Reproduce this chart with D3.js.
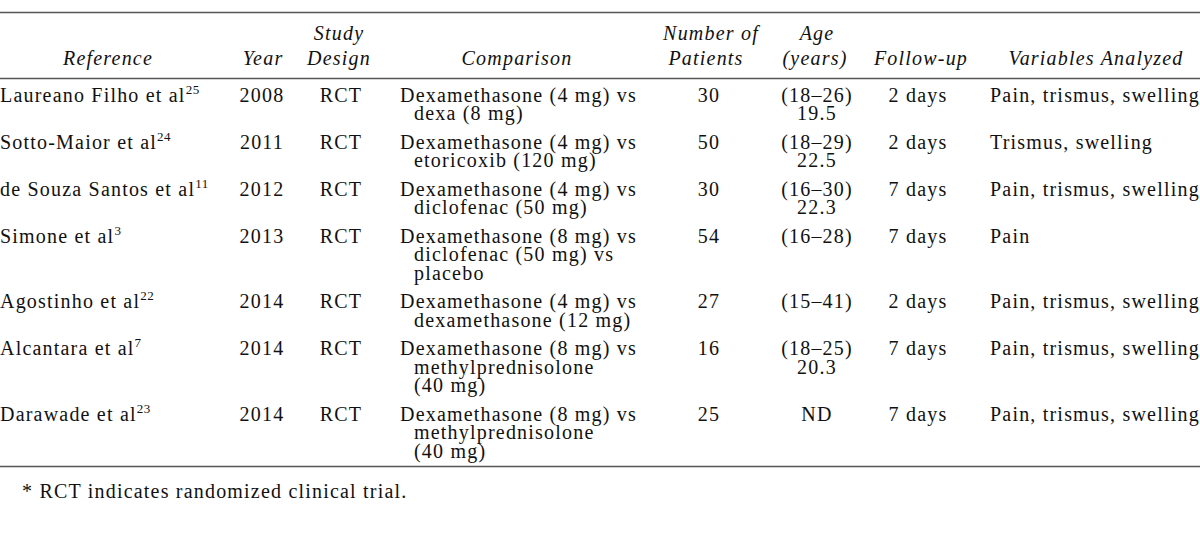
<!DOCTYPE html>
<html>
<head>
<meta charset="utf-8">
<script src="https://cdn.jsdelivr.net/npm/d3@7"></script>
<style>
  html, body { margin: 0; padding: 0; background: #fff; }
  svg { display: block; }
  text { font-family: "Liberation Serif", "Times New Roman", serif; fill: #111; }
</style>
</head>
<body>
<svg id="chart" width="1200" height="534"></svg>
<script>
// ---- Data ----
const headerLine1 = ["", "", "Study", "", "Number of", "Age", "", ""];
const headerLine2 = ["Reference", "Year", "Design", "Comparison", "Patients", "(years)", "Follow-up", "Variables Analyzed"];
const references = ["Laureano Filho et al", "Sotto-Maior et al", "de Souza Santos et al", "Simone et al", "Agostinho et al", "Alcantara et al", "Darawade et al"];
const refNotes = ["25", "24", "11", "3", "22", "7", "23"];
const years = ["2008", "2011", "2012", "2013", "2014", "2014", "2014"];
const designs = ["RCT", "RCT", "RCT", "RCT", "RCT", "RCT", "RCT"];
const comparisons = [
  ["Dexamethasone (4 mg) vs", "dexa (8 mg)"],
  ["Dexamethasone (4 mg) vs", "etoricoxib (120 mg)"],
  ["Dexamethasone (4 mg) vs", "diclofenac (50 mg)"],
  ["Dexamethasone (8 mg) vs", "diclofenac (50 mg) vs", "placebo"],
  ["Dexamethasone (4 mg) vs", "dexamethasone (12 mg)"],
  ["Dexamethasone (8 mg) vs", "methylprednisolone", "(40 mg)"],
  ["Dexamethasone (8 mg) vs", "methylprednisolone", "(40 mg)"]
];
const patients = [30, 50, 30, 54, 27, 16, 25];
const ages = [
  ["(18–26)", "19.5"],
  ["(18–29)", "22.5"],
  ["(16–30)", "22.3"],
  ["(16–28)"],
  ["(15–41)"],
  ["(18–25)", "20.3"],
  ["ND"]
];
const followUps = ["2 days", "2 days", "7 days", "7 days", "2 days", "7 days", "7 days"];
const variables = ["Pain, trismus, swelling", "Trismus, swelling", "Pain, trismus, swelling", "Pain", "Pain, trismus, swelling", "Pain, trismus, swelling", "Pain, trismus, swelling"];
const footnote = "* RCT indicates randomized clinical trial.";

// ---- Layout ----
const W = 1200, H = 534;
const FS = 20, LS = 1.2;           // font size, letter spacing
const lineH = 18.4, rowGap = 10.3;
const firstBaseline = 101.5;

const svg = d3.select("#chart");

// column positions (centre or left edge)
const colX = d3.scaleOrdinal()
  .domain(["ref", "year", "design", "comp", "pat", "age", "fu", "vars"])
  .range([0, 262, 341, 400, 709, 817, 918, 990]);
const headerX1 = [108, 263, 339, 517, 711, 817, 921, 1096];
const headerX2 = [108, 263, 339, 517, 706, 815, 921, 1096];

// horizontal rules
const rules = [12.5, 78.5, 466.5];
svg.selectAll("line.rule").data(rules).enter().append("line")
  .attr("class", "rule")
  .attr("x1", 0).attr("x2", W)
  .attr("y1", d => d).attr("y2", d => d)
  .attr("stroke", "#555").attr("stroke-width", 1.4);

// headers
const hdr = svg.append("g").attr("font-style", "italic").attr("font-size", FS).attr("letter-spacing", LS);
headerLine2.forEach((h, i) => {
  if (headerLine1[i]) {
    hdr.append("text").attr("x", headerX1[i]).attr("y", 39.5).attr("text-anchor", "middle").text(headerLine1[i]);
  }
  hdr.append("text").attr("x", headerX2[i]).attr("y", 64.5).attr("text-anchor", "middle").text(h);
});

// row baselines
const rows = references.map((r, i) => ({
  i,
  n: Math.max(comparisons[i].length, ages[i].length, 1)
}));
let y = firstBaseline;
rows.forEach(r => { r.y = y; y += r.n * lineH + rowGap; });

const body = svg.append("g").attr("font-size", FS).attr("letter-spacing", LS);
const rowG = body.selectAll("g.row").data(rows).enter().append("g").attr("class", "row");

// reference with superscript
rowG.append("text")
  .attr("x", colX("ref")).attr("y", d => d.y)
  .each(function(d) {
    const t = d3.select(this);
    t.append("tspan").text(references[d.i]);
    t.append("tspan").attr("font-size", 13).attr("dy", -8).attr("letter-spacing", 0.5).text(refNotes[d.i]);
  });

rowG.append("text").attr("x", colX("year")).attr("y", d => d.y).attr("text-anchor", "middle").text(d => years[d.i]);
rowG.append("text").attr("x", colX("design")).attr("y", d => d.y).attr("text-anchor", "middle").text(d => designs[d.i]);

// multi-line cells as single text elements with tspans
rowG.append("text")
  .attr("y", d => d.y)
  .each(function(d) {
    const t = d3.select(this);
    comparisons[d.i].forEach((line, k) => {
      t.append("tspan")
        .attr("x", colX("comp") + (k > 0 ? 14 : 0))
        .attr("dy", k === 0 ? 0 : lineH)
        .text(line);
    });
  });

rowG.append("text")
  .attr("y", d => d.y)
  .attr("text-anchor", "middle")
  .each(function(d) {
    const t = d3.select(this);
    ages[d.i].forEach((line, k) => {
      t.append("tspan")
        .attr("x", colX("age"))
        .attr("dy", k === 0 ? 0 : lineH)
        .text(line);
    });
  });

rowG.append("text").attr("x", colX("pat")).attr("y", d => d.y).attr("text-anchor", "middle").text(d => patients[d.i]);
rowG.append("text").attr("x", colX("fu")).attr("y", d => d.y).attr("text-anchor", "middle").text(d => followUps[d.i]);
rowG.append("text").attr("x", colX("vars")).attr("y", d => d.y).text(d => variables[d.i]);

// footnote
svg.append("text").attr("x", 22).attr("y", 497.5).attr("font-size", FS).attr("letter-spacing", LS).text(footnote);
</script>
</body>
</html>
